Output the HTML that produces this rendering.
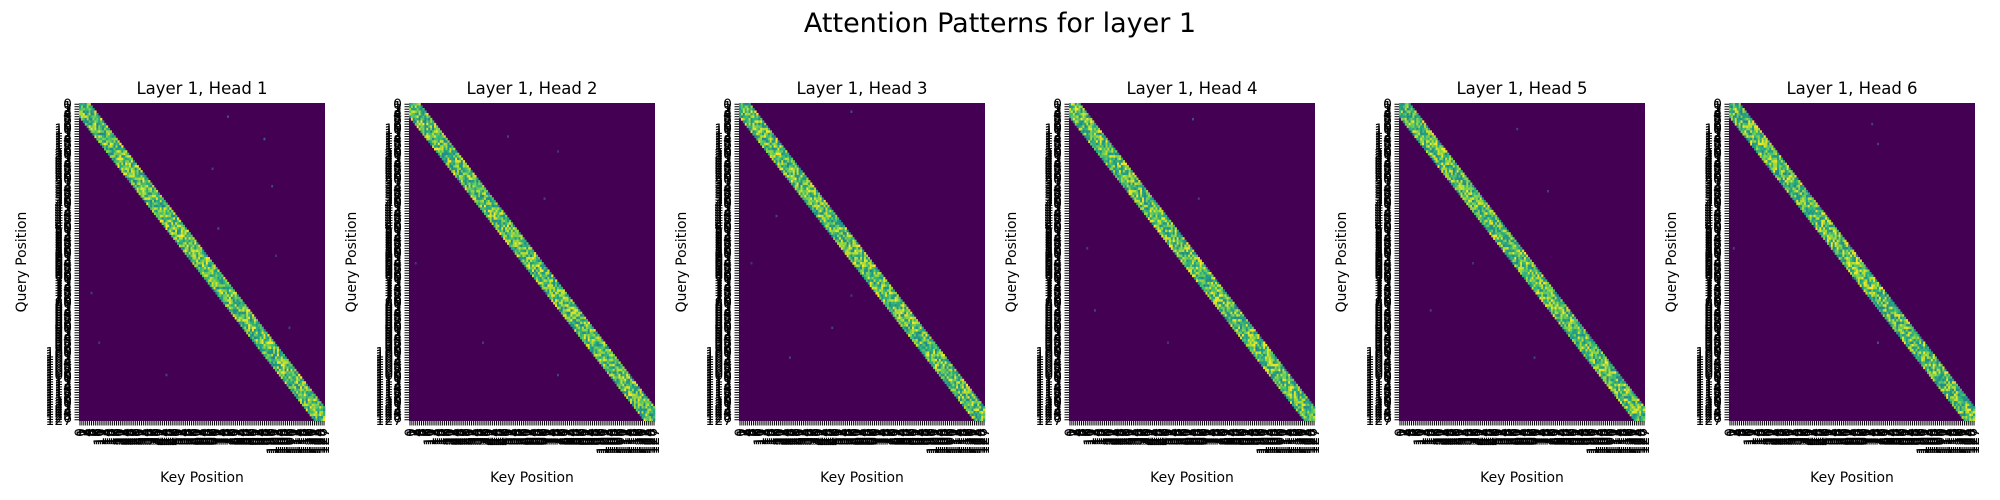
<!DOCTYPE html>
<html><head><meta charset="utf-8">
<style>
html,body{margin:0;padding:0;background:#fff;}
svg{display:block;font-family:"DejaVu Sans","Liberation Sans",sans-serif;}
</style></head>
<body>
<svg id="fig" width="2000" height="500" viewBox="0 0 2000 500">
<text x="1000" y="32" text-anchor="middle" font-size="27" fill="#000">Attention Patterns for layer 1</text>
</svg>
<script>
// ---- data ----
const headTitles = ["Layer 1, Head 1","Layer 1, Head 2","Layer 1, Head 3","Layer 1, Head 4","Layer 1, Head 5","Layer 1, Head 6"];
const seqLen = 128;
const bandHalfWidth = [5,5,5,5,5,5];
const bandSeeds = [11,23,37,41,53,67];
const speckles = [
  [[8,120,0.25],[22,150,0.3],[40,108,0.2],[52,157,0.22],[78,112,0.25],[118,10,0.18],[150,16,0.15],[170,70,0.2],[140,170,0.2],[95,160,0.15]],
  [[20,80,0.2],[60,110,0.2],[100,5,0.15],[150,60,0.18],[170,120,0.2],[30,120,0.15]],
  [[5,90,0.25],[70,30,0.2],[100,10,0.15],[160,40,0.2],[140,75,0.2],[120,90,0.15]],
  [[10,100,0.25],[60,105,0.2],[90,14,0.2],[130,20,0.2],[150,80,0.15]],
  [[15,95,0.2],[55,120,0.2],[130,25,0.18],[160,110,0.2],[100,60,0.15]],
  [[12,115,0.2],[25,120,0.2],[90,3,0.2],[150,120,0.25],[110,100,0.15]]
];
const xLabel = "Key Position";
const yLabel = "Query Position";
// ---- layout ----
const panelLeft = [79,409,739,1069,1399,1729];
const plotW = 246, plotTop = 103, plotH = 318;
const NS = "http://www.w3.org/2000/svg";
const svg = document.getElementById("fig");
function mk(tag, attrs, parent){const e=document.createElementNS(NS,tag);for(const k in attrs)e.setAttribute(k,attrs[k]);(parent||svg).appendChild(e);return e;}
const vstops=[[68,1,84],[72,40,120],[62,74,137],[49,104,142],[38,130,142],[31,158,137],[53,183,121],[109,205,89],[180,222,44],[253,231,37]];
function viridis(t){t=Math.max(0,Math.min(1,t));const p=t*(vstops.length-1);const i=Math.min(Math.floor(p),vstops.length-2);const f=p-i;const a=vstops[i],b=vstops[i+1];return `rgb(${Math.round(a[0]+(b[0]-a[0])*f)},${Math.round(a[1]+(b[1]-a[1])*f)},${Math.round(a[2]+(b[2]-a[2])*f)})`;}
function rng(seed){let s=seed>>>0;return ()=>{s=(s*1664525+1013904223)>>>0;return s/4294967296;};}

headTitles.forEach((title,h)=>{
  const x0=panelLeft[h];
  const g=mk("g",{});
  
  
  const xs=c=>x0+c*plotW/seqLen, ys=r=>plotTop+r*plotH/seqLen;
  const cw=plotW/seqLen, ch=plotH/seqLen;
  const bg=mk("rect",{x:x0,y:plotTop,width:plotW,height:plotH,fill:"#440154"},g);
  
  
  const rand=rng(bandSeeds[h]);
  const hw=bandHalfWidth[h];
  for(let r=0;r<seqLen;r++){
    for(let c=Math.max(0,r-hw);c<=Math.min(seqLen-1,r+hw);c++){
      const v=0.45+0.55*rand();
      const cell=mk("rect",{x:xs(c).toFixed(2),y:ys(r).toFixed(2),width:(cw+0.3).toFixed(2),height:(ch+0.3).toFixed(2),fill:viridis(v)},g);
      
      
    }
  }
  speckles[h].forEach(s=>{
    const r=Math.round(s[0]*seqLen/200), c=Math.round(s[1]*seqLen/200);
    const sp=mk("rect",{x:xs(c),y:ys(r),width:cw,height:ch,fill:viridis(s[2])},g);
    
    
  });
  const t=mk("text",{x:x0+plotW/2,y:plotTop-9,"text-anchor":"middle","font-size":16.5,fill:"#000"},g);
  t.textContent=title;
  
  
  // y ticks
  for(let r=0;r<seqLen;r++){
    const y=ys(r+0.5);
    mk("line",{x1:x0-4.5,x2:x0,y1:y,y2:y,stroke:"#000","stroke-width":1},g);
    const lb=mk("text",{x:x0-7,y:y+5,"text-anchor":"end","font-size":13.9,fill:"#000"},g);
    lb.textContent=String(r);
    
    
  }
  // x ticks
  for(let c=0;c<seqLen;c++){
    const x=xs(c+0.5);
    mk("line",{x1:x,x2:x,y1:plotTop+plotH,y2:plotTop+plotH+4.5,stroke:"#000","stroke-width":1},g);
    const lb=mk("text",{x:x+5,y:plotTop+plotH+7,"text-anchor":"end","font-size":13.9,fill:"#000",transform:`rotate(-90 ${x+5} ${plotTop+plotH+7})`},g);
    lb.textContent=String(c);
    
    
  }
  const xl=mk("text",{x:x0+plotW/2,y:482,"text-anchor":"middle","font-size":13.9,fill:"#000"},g);
  xl.textContent=xLabel;
  
  
  const yx=x0-53, yc=plotTop+plotH/2;
  const yl=mk("text",{x:yx,y:yc,"text-anchor":"middle","font-size":13.9,fill:"#000",transform:`rotate(-90 ${yx} ${yc})`},g);
  yl.textContent=yLabel;
  
  
});
</script>
</body></html>
